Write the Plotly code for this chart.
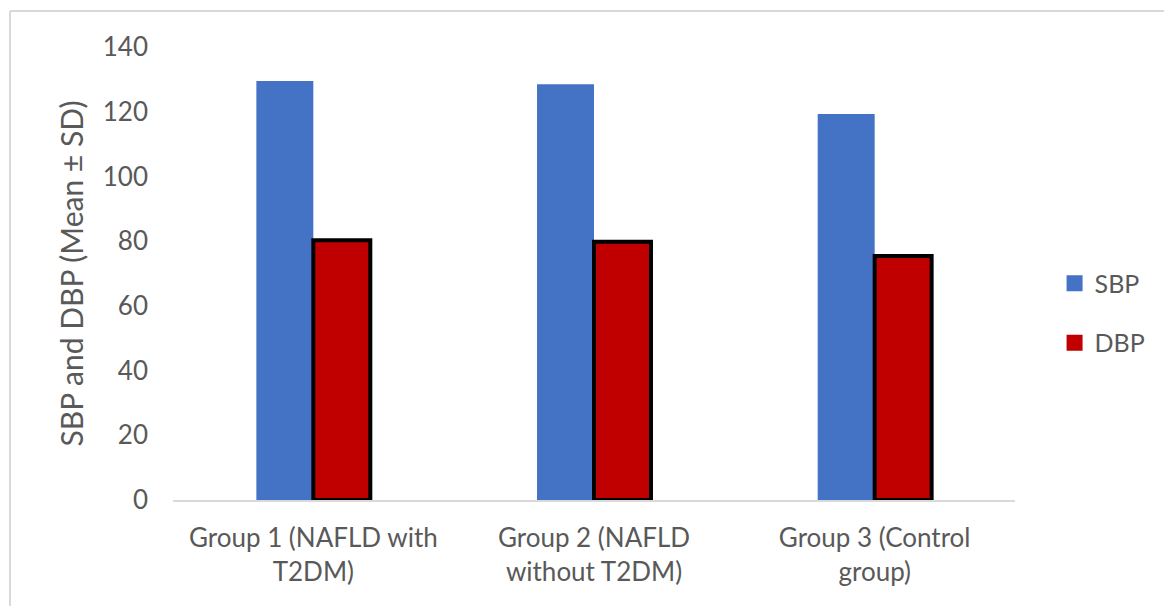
import plotly.graph_objects as go

# Blood pressure by study group
groups = ["Group 1 (NAFLD with<br>T2DM)",
          "Group 2 (NAFLD<br>without T2DM)",
          "Group 3 (Control<br>group)"]
sbp = [129.5, 128.5, 119.3]
dbp = [80.3, 79.8, 75.4]
y_ticks = [0, 20, 40, 60, 80, 100, 120, 140]

SBP_COLOR = "#4472C4"
DBP_COLOR = "#C00000"
TEXT_COLOR = "#595959"
FONT = "Lato"

fig = go.Figure()
fig.add_trace(go.Bar(x=groups, y=sbp, name="SBP", marker=dict(color=SBP_COLOR, line=dict(width=0)),
                     showlegend=False))
fig.add_trace(go.Bar(x=groups, y=dbp, name="DBP",
                     marker=dict(color=DBP_COLOR, line=dict(color="black", width=4)),
                     showlegend=False))

# legend entries with plain square swatches
for name, col in [("SBP", SBP_COLOR), ("DBP", DBP_COLOR)]:
    fig.add_trace(go.Scatter(x=[None], y=[None], mode="markers", name=name, legendgroup=name,
                             marker=dict(symbol="square", size=16, color=col)))

fig.update_layout(
    width=1164, height=606,
    margin=dict(l=173, r=149, t=47, b=106),
    paper_bgcolor="white", plot_bgcolor="white",
    font=dict(family=FONT, size=26, color=TEXT_COLOR),
    barmode="group", bargap=0.594, bargroupgap=0,
    showlegend=True,
    legend=dict(x=1.047, y=0.413, yanchor="middle", xanchor="left",
                traceorder="grouped", tracegroupgap=24,
                font=dict(family=FONT, size=25, color=TEXT_COLOR),
                itemwidth=30, bgcolor="rgba(0,0,0,0)"),
)
fig.update_xaxes(showline=True, linecolor="#D9D9D9", linewidth=2, showgrid=False,
                 ticks="", ticklabelstandoff=14,
                 tickfont=dict(size=26, color=TEXT_COLOR), zeroline=False)
fig.update_yaxes(range=[0, 140], tickvals=y_ticks, showgrid=False, zeroline=False,
                 showline=False, ticklabelstandoff=24,
                 tickfont=dict(size=26, color=TEXT_COLOR),
                 title=dict(text="SBP and DBP (Mean ± SD)", standoff=10,
                            font=dict(size=30, color=TEXT_COLOR)))

# outer chart frame (top and left edges visible)
fig.add_shape(type="line", xref="paper", yref="paper", x0=-0.1936, x1=1.2, y0=1.0795, y1=1.0795,
              line=dict(color="#D9D9D9", width=2))
fig.add_shape(type="line", xref="paper", yref="paper", x0=-0.1936, x1=-0.1936, y0=1.0795, y1=-0.3,
              line=dict(color="#D9D9D9", width=2))

fig.write_html("out.html")
